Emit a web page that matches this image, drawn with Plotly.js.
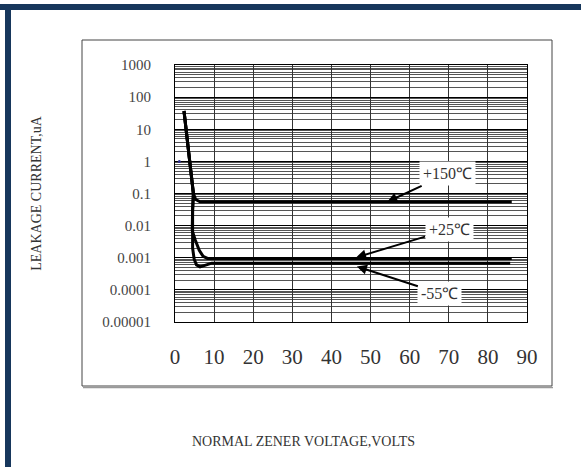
<!DOCTYPE html>
<html>
<head>
<meta charset="utf-8">
<script src="https://cdn.plot.ly/plotly-3.0.1.min.js"></script>
<style>
html,body{margin:0;padding:0;background:#fff;}
#chart{width:581px;height:467px;}
</style>
</head>
<body>
<div id="chart"></div>
<script>
// ---- data ----
const xTicks = [0, 10, 20, 30, 40, 50, 60, 70, 80, 90];
const yTickVals = [0.00001, 0.0001, 0.001, 0.01, 0.1, 1, 10, 100, 1000];
const yTickText = ['0.00001', '0.0001', '0.001', '0.01', '0.1', '1', '10', '100', '1000'];

const t150_x = [2.3, 3.5, 4.7, 5.3, 6.4, 10, 86.1];
const t150_y = [37, 1.8, 0.1, 0.065, 0.055, 0.055, 0.055];

const t25_x = [2.3, 4.7, 4.5, 4.4, 5.2, 6.2, 7.2, 8.3, 86.1];
const t25_y = [37, 0.1, 0.03, 0.007, 0.0035, 0.0017, 0.0011, 0.00095, 0.00095];

const tm55_x = [2.3, 4.7, 4.5, 4.4, 4.5, 4.9, 5.5, 6.4, 7.8, 9.4, 85.7];
const tm55_y = [37, 0.1, 0.03, 0.007, 0.002, 0.0009, 0.0006, 0.00052, 0.00058, 0.00068, 0.00068];

const dot_x = [1.1];
const dot_y = [1];

const labels = ['+150℃', '+25℃', '-55℃'];

// ---- geometry ----
const W = 581, H = 467;
const mL = 175, mR = 54, mT = 65, mB = 145;
const pw = W - mL - mR, ph = H - mT - mB;
const px = v => (v - mL) / pw;
const py = v => (H - mB - v) / ph;

const serif = 'Liberation Serif, Times New Roman, serif';
const txt = '#333';
const lineStyle = {color: '#000', width: 3};

const traces = [
  {x: t150_x, y: t150_y, mode: 'lines', line: lineStyle, name: labels[0], showlegend: false},
  {x: t25_x, y: t25_y, mode: 'lines', line: lineStyle, name: labels[1], showlegend: false},
  {x: tm55_x, y: tm55_y, mode: 'lines', line: lineStyle, name: labels[2], showlegend: false},
  {x: dot_x, y: dot_y, mode: 'markers', marker: {color: '#2a2a8a', size: 3}, showlegend: false, hoverinfo: 'skip'}
];

const navy = '#17375c';
const annFont = {family: serif, size: 16, color: txt};
const layout = {
  width: W, height: H,
  margin: {l: mL, r: mR, t: mT, b: mB, pad: 0},
  paper_bgcolor: '#fff', plot_bgcolor: '#fff',
  font: {family: serif, color: txt},
  showlegend: false,
  xaxis: {
    range: [0, 90], tickvals: xTicks, ticks: '', showgrid: true,
    gridcolor: '#333', gridwidth: 1, zeroline: false,
    showline: true, linecolor: '#000', linewidth: 1, mirror: true,
    tickfont: {family: serif, size: 21, color: txt},
    ticklabelstandoff: 16
  },
  yaxis: {
    type: 'log', range: [-5, 3], tickvals: yTickVals, ticktext: yTickText, ticks: '',
    showgrid: true, gridcolor: '#000', gridwidth: 1, zeroline: false,
    showline: true, linecolor: '#000', linewidth: 1, mirror: true,
    tickfont: {family: serif, size: 15, color: '#444'},
    ticklabelstandoff: 20,
    minor: {dtick: 'D1', showgrid: true, gridcolor: '#555', gridwidth: 1, ticks: ''},
    title: {text: 'LEAKAGE CURRENT,uA', font: {family: serif, size: 14, color: txt}, standoff: 57}
  },
  shapes: [
    // navy frame
    {type: 'rect', xref: 'paper', yref: 'paper', x0: px(0), x1: px(581), y0: py(4), y1: py(10), fillcolor: navy, line: {width: 0}, layer: 'below'},
    {type: 'rect', xref: 'paper', yref: 'paper', x0: px(5), x1: px(11), y0: py(4), y1: py(467), fillcolor: navy, line: {width: 0}, layer: 'below'},
    // inner box
    {type: 'rect', xref: 'paper', yref: 'paper', x0: px(82), x1: px(552), y0: py(40), y1: py(386), line: {color: '#444', width: 1}, fillcolor: 'rgba(0,0,0,0)', layer: 'below'},
    {type: 'line', xref: 'paper', yref: 'paper', x0: px(83), x1: px(553), y0: py(387.5), y1: py(387.5), line: {color: '#999', width: 1.5}, layer: 'below'}
  ],
  annotations: [
    {x: 54.3, y: -1.26, xref: 'x', yref: 'y', text: labels[0], showarrow: true,
     ax: 60, ay: -28, arrowhead: 2, arrowsize: 1, arrowwidth: 2, arrowcolor: '#000',
     bgcolor: '#fff', borderpad: 3, font: annFont},
    {x: 46.3, y: -2.99, xref: 'x', yref: 'y', text: labels[1], showarrow: true,
     ax: 93, ay: -28, arrowhead: 2, arrowsize: 1, arrowwidth: 2, arrowcolor: '#000',
     bgcolor: '#fff', borderpad: 3, font: annFont},
    {x: 46.5, y: -3.27, xref: 'x', yref: 'y', text: labels[2], showarrow: true,
     ax: 83, ay: 27, arrowhead: 2, arrowsize: 1, arrowwidth: 2, arrowcolor: '#000',
     bgcolor: '#fff', borderpad: 3, font: annFont},
    {x: px(303), y: py(441), xref: 'paper', yref: 'paper', text: 'NORMAL ZENER VOLTAGE,VOLTS',
     showarrow: false, xanchor: 'center', yanchor: 'middle', font: {family: serif, size: 14, color: txt}}
  ]
};

Plotly.newPlot('chart', traces, layout, {displayModeBar: false, staticPlot: true});
</script>
</body>
</html>
